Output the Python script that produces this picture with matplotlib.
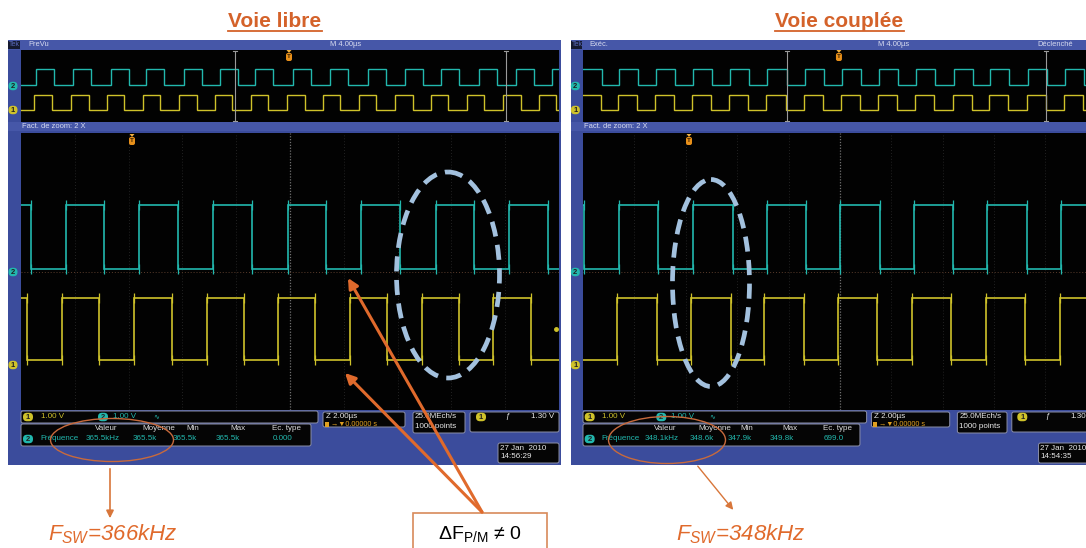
import matplotlib
matplotlib.use('Agg')
import matplotlib.pyplot as plt
from matplotlib.patches import Rectangle, FancyBboxPatch, Ellipse, Polygon

plt.rcParams['mathtext.fontset'] = 'custom'
plt.rcParams['mathtext.rm'] = 'Liberation Sans'
plt.rcParams['mathtext.it'] = 'Liberation Sans:italic'
plt.rcParams['mathtext.bf'] = 'Liberation Sans:bold'

# ---------------- data ----------------
titles = ['Voie libre', 'Voie couplée']
header_left = ['PreVu', 'Exéc.']
header_right = ['', 'Déclenché']
header_timebase = 'M 4.00µs'
zoom_label = 'Fact. de zoom: 2 X'
ch_scale = '1.00 V'
meas_headers = ['Valeur', 'Moyenne', 'Min', 'Max', 'Ec. type']
libre_meas = ['365.5kHz', '365.5k', '365.5k', '365.5k', '0.000']
couplee_meas = ['348.1kHz', '348.6k', '347.9k', '349.8k', '699.0']
timebase = ['2.00µs', '0.00000 s']
sampling = ['25.0MEch/s', '1000 points']
trigger_levels = ['1.30 V', '1.30']
dates = ['27 Jan  2010', '27 Jan  2010']
times = ['14:56:29', '14:54:35']
fsw_labels = ['366kHz', '348kHz']
delta_label = 'ΔF$_{\\mathrm{P/M}}$ ≠ 0'

# edge times (µs) read from the zoomed main window (2 µs/div, 20 µs wide)
libre_ch2_rises = [1.67, 4.39, 7.14, 9.93, 12.64, 15.43, 18.14]
libre_ch2_falls = [0.37, 3.09, 5.84, 8.59, 11.34, 14.09, 16.84, 19.59]
libre_ch1_rises = [1.52, 4.20, 6.91, 9.55, 12.23, 14.91, 17.55]
libre_ch1_falls = [0.22, 2.90, 5.61, 8.29, 10.93, 13.61, 16.28, 18.96]
couplee_ch2_rises = [1.40, 4.28, 7.16, 10.00, 12.88, 15.72, 18.60]
couplee_ch2_falls = [0.05, 2.92, 5.84, 8.68, 11.56, 14.40, 17.28]
couplee_ch1_rises = [1.32, 4.20, 7.04, 9.92, 12.80, 15.68, 18.56]
couplee_ch1_falls = [2.88, 5.76, 8.60, 11.44, 14.32, 17.20]

# edge times (µs) read from the overview record (4 µs/div, 40 µs wide)
libre_ov_ch2_rises = [1.12, 3.87, 6.69, 9.29, 12.12, 14.80, 17.40, 20.22, 22.97, 25.80, 28.55, 31.23, 34.05, 36.80, 39.48]
libre_ov_ch2_falls = [2.46, 5.21, 8.03, 10.63, 13.46, 16.14, 18.74, 21.56, 24.31, 27.14, 29.89, 32.57, 35.39, 38.14]
libre_ov_ch1_rises = [0.97, 3.72, 6.39, 9.07, 11.75, 14.42, 17.10, 19.78, 22.45, 25.13, 27.81, 30.48, 33.16, 35.84, 38.51]
libre_ov_ch1_falls = [2.27, 5.02, 7.69, 10.37, 13.05, 15.72, 18.40, 21.08, 23.75, 26.43, 29.11, 31.78, 34.46, 37.14, 39.81]
couplee_ov_ch2_rises = [2.80, 5.68, 8.56, 11.44, 14.36, 17.28, 20.16, 23.03, 25.91, 28.87, 31.67, 34.63, 37.51]
couplee_ov_ch2_falls = [1.50, 4.30, 7.18, 10.06, 12.94, 15.86, 18.78, 21.66, 24.53, 27.41, 30.37, 33.17, 36.13, 39.01]
couplee_ov_ch1_rises = [2.72, 5.60, 8.46, 11.34, 14.26, 17.18, 20.06, 22.93, 25.81, 28.77, 31.57, 34.53, 37.41]
couplee_ov_ch1_falls = [1.42, 4.22, 7.10, 9.98, 12.86, 15.78, 18.70, 21.58, 24.45, 27.33, 30.29, 33.09, 36.05, 38.93]

# levels (divisions)
main_ch2_levels = [0.08, 1.91]
main_ch1_levels = [-2.55, -0.76]
ov_ch2_levels = [0.10, 1.89]
ov_ch1_levels = [-2.65, -1.0]

# ---------------- style ----------------
W, H = 1086, 548
FRAME = '#3b4c9c'
BAR = '#4657a8'
CYAN = '#22b8ae'
YEL = '#cfc22a'
ORANGE = '#e06a2c'
TITLE_C = '#d4622a'
ELL_BLUE = '#a3c1de'
SCOPE_FONT = ['Liberation Sans', 'DejaVu Sans', 'Noto Sans CJK JP']

fig = plt.figure(figsize=(W / 100, H / 100), dpi=100)
fig.patch.set_facecolor('white')
base = fig.add_axes([0, 0, 1, 1])
base.set_xlim(0, W)
base.set_ylim(H, 0)
base.axis('off')


def sub_ax(x0, y0, x1, y1):
    a = fig.add_axes([x0 / W, 1 - y1 / H, (x1 - x0) / W, (y1 - y0) / H])
    a.set_facecolor('#020202')
    a.set_xticks([])
    a.set_yticks([])
    for s in a.spines.values():
        s.set_visible(False)
    return a


def wave(ax, rises, falls, lo, hi, tmax, color, lw=1.2, serif=True):
    ev = sorted([(t, hi) for t in rises] + [(t, lo) for t in falls])
    cur = lo if ev[0][1] == hi else hi
    xs, ys = [0], [cur]
    for t, lv in ev:
        xs += [t, t]
        ys += [cur, lv]
        cur = lv
    xs.append(tmax)
    ys.append(cur)
    ax.plot(xs, ys, color=color, lw=lw, solid_joinstyle='miter')
    if serif:
        ts = [t for t, _ in ev]
        for lv in (lo, hi):
            ax.plot(ts, [lv] * len(ts), ls='none', marker='|', ms=7,
                    mew=0.9, color=color)


def pill(ax, x, y, color, label, w=10, h=8.5):
    ax.add_patch(FancyBboxPatch((x - w / 2, y - h / 2), w, h,
                                boxstyle='round,pad=0,rounding_size=4',
                                fc=color, ec='none', zorder=5))
    ax.text(x, y + 0.3, label, color='#202020', fontsize=5.5, ha='center',
            va='center', fontweight='bold', family=SCOPE_FONT, zorder=6)


def rbox(ax, x0, y0, x1, y1):
    ax.add_patch(FancyBboxPatch((x0, y0), x1 - x0, y1 - y0,
                                boxstyle='round,pad=0,rounding_size=2',
                                fc='#050505', ec='#8c90a8', lw=0.7, zorder=3))


def stext(ax, x, y, s, color='#e8e8e8', size=5.8, **kw):
    ax.text(x, y, s, color=color, fontsize=size, family=SCOPE_FONT,
            va='center', ha=kw.pop('ha', 'left'), zorder=7, **kw)


def draw_scope(idx, x0, sx, ov2r, ov2f, ov1r, ov1f, m2r, m2f, m1r, m1f, meas):
    X = lambda x: x0 + (x - 21) * sx
    # frame
    base.add_patch(Rectangle((X(8), 40), X(561) - X(8), 425, fc=FRAME, ec='none', zorder=1))
    base.add_patch(Rectangle((X(8), 40), X(561) - X(8), 10, fc=BAR, ec='none', zorder=1))
    base.add_patch(Rectangle((X(8), 122), X(561) - X(8), 9, fc=BAR, ec='none', zorder=1))
    base.add_patch(Rectangle((X(8), 40.5), 12 * sx, 8.5, fc='#151a30', ec='none', zorder=2))
    stext(base, X(9), 45, 'Tek', color='#5b6cc0', size=5)
    stext(base, X(28), 45, header_left[idx], color='#d8dcf0', size=5.4)
    stext(base, X(330), 45, header_timebase, color='#d8dcf0', size=5.4)
    stext(base, X(497), 45, header_right[idx], color='#d8dcf0', size=5.4)
    stext(base, X(22), 126.5, zoom_label, color='#d8dcf0', size=5.4)

    # overview
    ov = sub_ax(X(21), 50, X(559), 122)
    ov.set_xlim(0, 40)
    ov.set_ylim(-4, 4)
    wave(ov, ov2r, ov2f, *ov_ch2_levels, 40, CYAN, lw=1.0, serif=False)
    wave(ov, ov1r, ov1f, *ov_ch1_levels, 40, YEL, lw=1.0, serif=False)

    # main window
    mn = sub_ax(X(21), 133, X(559), 410)
    mn.set_xlim(0, 20)
    mn.set_ylim(-4, 4)
    for t in range(2, 20, 2):
        mn.axvline(t, color='#2c2c2c' if t != 10 else '#707070',
                   lw=0.6 if t != 10 else 0.9, ls=(0, (1, 2.5)) if t != 10 else (0, (1, 1.3)))
    mn.axhline(0, color='#5a3c2c', lw=0.7, ls=(0, (1, 2)))
    wave(mn, m2r, m2f, *main_ch2_levels, 20, CYAN)
    wave(mn, m1r, m1f, *main_ch1_levels, 20, YEL)

    # channel markers
    pill(base, X(13), 86, CYAN, '2', w=9)
    pill(base, X(13), 110, YEL, '1', w=9)
    pill(base, X(13), 272, CYAN, '2', w=9)
    pill(base, X(13), 365, YEL, '1', w=9)

    # readouts
    rbox(base, X(21), 411, X(318), 423)
    rbox(base, X(21), 424, X(311), 446)
    rbox(base, X(323), 412, X(405), 427)
    rbox(base, X(413), 412, X(465), 433)
    rbox(base, X(470), 412, X(559), 432)
    rbox(base, X(498), 443, X(559), 463)
    pill(base, X(28), 417, YEL, '1')
    stext(base, X(41), 417, ch_scale, color=YEL)
    pill(base, X(103), 417, CYAN, '2')
    stext(base, X(113), 417, ch_scale, color=CYAN)
    stext(base, X(153), 417, '∿', color=CYAN, size=5)
    for hx, hs in zip([95, 142, 186, 230, 272], meas_headers):
        stext(base, X(hx), 429, hs, color='#dcdcdc')
    pill(base, X(28), 439, CYAN, '2')
    stext(base, X(40), 439, 'Fréquence', color=CYAN)
    for vx, vs in zip([86, 133, 173, 216, 273], meas):
        stext(base, X(vx), 439, vs, color=CYAN)
    stext(base, X(326), 417, 'Z ' + timebase[0])
    base.add_patch(Rectangle((X(325), 421.5), 4, 5, fc='#e0a020', ec='none', zorder=7))
    stext(base, X(331), 424, '→▼' + timebase[1], color='#e0a020', size=5.2)
    stext(base, X(415), 417, sampling[0])
    stext(base, X(415), 426, sampling[1])
    pill(base, X(481), 417, YEL, '1')
    stext(base, X(505), 417, 'ƒ', color='#e8e8e8')
    stext(base, X(531), 417, trigger_levels[idx])
    stext(base, X(500), 449, dates[idx])
    stext(base, X(500), 457, times[idx])


draw_scope(0, 21, 1.0, libre_ov_ch2_rises, libre_ov_ch2_falls, libre_ov_ch1_rises,
           libre_ov_ch1_falls, libre_ch2_rises, libre_ch2_falls, libre_ch1_rises,
           libre_ch1_falls, libre_meas)
draw_scope(1, 583, 0.955, couplee_ov_ch2_rises, couplee_ov_ch2_falls, couplee_ov_ch1_rises,
           couplee_ov_ch1_falls, couplee_ch2_rises, couplee_ch2_falls, couplee_ch1_rises,
           couplee_ch1_falls, couplee_meas)

# ---------------- overlay ----------------
top = fig.add_axes([0, 0, 1, 1], zorder=20)
top.set_xlim(0, W)
top.set_ylim(H, 0)
top.axis('off')
top.patch.set_alpha(0)

for x0, sx in [(21, 1.0), (583, 0.955)]:
    X = lambda x: x0 + (x - 21) * sx
    for xx in (235, 506):
        top.plot([X(xx), X(xx)], [51, 121], color='#9a9a9a', lw=0.8)
        top.plot([X(xx) - 2, X(xx) + 2], [51, 51], color='#9a9a9a', lw=0.8)
        top.plot([X(xx) - 2, X(xx) + 2], [121, 121], color='#9a9a9a', lw=0.8)
    for tx, ty in [(X(289), 57), (X(132), 141)]:
        top.add_patch(Polygon([[tx - 2.5, ty - 7], [tx + 2.5, ty - 7], [tx, ty - 4]],
                              fc='#f0b040', ec='none'))
        top.add_patch(FancyBboxPatch((tx - 3, ty - 4), 6, 8,
                                     boxstyle='round,pad=0,rounding_size=2',
                                     fc='#e8901a', ec='none'))
        top.text(tx, ty, 'T', color='#3a2000', fontsize=4.5, ha='center', va='center',
                 family=SCOPE_FONT, fontweight='bold')
top.plot([556], [329], 'o', color=YEL, ms=2.5)

# titles
for tx, tw, s in [(275, 94, titles[0]), (839, 129, titles[1])]:
    top.text(tx, 27, s, color=TITLE_C, fontsize=15, fontweight='bold',
             family='Liberation Sans', ha='center', va='baseline')
    top.plot([tx - tw / 2, tx + tw / 2], [30.5, 30.5], color=TITLE_C, lw=1.3)

# dashed ellipses
top.add_patch(Ellipse((448, 275), 103, 206, fill=False, ec=ELL_BLUE, lw=3.4,
                      ls=(0, (3.2, 1.8))))
top.add_patch(Ellipse((711, 283), 77, 207, fill=False, ec=ELL_BLUE, lw=3.4,
                      ls=(0, (3.2, 1.8))))

# measurement ellipses and F_SW arrows
top.add_patch(Ellipse((112, 440), 123, 43, fill=False, ec='#c86a3c', lw=1.0))
top.add_patch(Ellipse((667, 440), 117, 47, fill=False, ec='#c86a3c', lw=1.0))
top.annotate('', xy=(110, 521), xytext=(110, 466),
             arrowprops=dict(arrowstyle='-|>', color='#d8763a', lw=1.2, mutation_scale=11))
top.annotate('', xy=(735, 512), xytext=(696, 464),
             arrowprops=dict(arrowstyle='-|>', color='#d8763a', lw=1.0, mutation_scale=11))
for fx, lab in [(48, fsw_labels[0]), (676, fsw_labels[1])]:
    top.text(fx, 540, '$\\mathit{F}_{\\mathit{SW}}$=' + lab, color=ORANGE, fontsize=16,
             family='Liberation Sans', style='italic', ha='left', va='baseline')

# ΔF box and arrows
top.add_patch(Rectangle((413, 513), 134, 45, fc='white', ec='#d88a5a', lw=1.2))
top.text(480, 534, delta_label, color='black', fontsize=14, family='Liberation Sans',
         ha='center', va='center')
for tip in [(348, 278), (345, 373)]:
    top.annotate('', xy=tip, xytext=(482, 512),
                 arrowprops=dict(arrowstyle='-|>', color=ORANGE, lw=2.2,
                                 mutation_scale=15, shrinkA=0, shrinkB=0))

fig.savefig('out.png', dpi=100, facecolor='white')
